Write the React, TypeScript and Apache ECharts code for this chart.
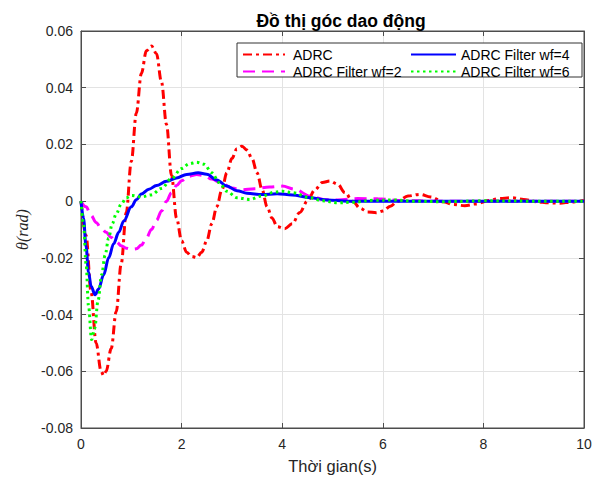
import React, { useEffect, useRef } from "react";
import * as echarts from "echarts";

// ---- Data ----
const xTicks = [0, 2, 4, 6, 8, 10];
const yTicks = [-0.08, -0.06, -0.04, -0.02, 0, 0.02, 0.04, 0.06];

const seriesNames = ["ADRC", "ADRC Filter wf=2", "ADRC Filter wf=4", "ADRC Filter wf=6"];

const tAdrc = [0, 0.1, 0.2, 0.3, 0.4, 0.45, 0.5, 0.6, 0.7, 0.8, 0.9, 1.0, 1.1, 1.2, 1.3, 1.4, 1.5, 1.6, 1.7, 1.8, 1.9, 2.0, 2.1, 2.2, 2.3, 2.4, 2.5, 2.6, 2.7, 2.8, 2.9, 3.0, 3.1, 3.2, 3.3, 3.4, 3.5, 3.6, 3.7, 3.8, 3.9, 4.05, 4.2, 4.35, 4.5, 4.65, 4.8, 4.95, 5.1, 5.25, 5.4, 5.55, 5.7, 5.87, 6.0, 6.15, 6.3, 6.5, 6.74, 6.95, 7.2, 7.4, 7.63, 7.85, 8.1, 8.3, 8.56, 8.8, 9.05, 9.3, 9.52, 9.75, 10];
const vAdrc = [0, -0.012, -0.032, -0.05, -0.06, -0.0615, -0.06, -0.052, -0.039, -0.022, -0.004, 0.014, 0.031, 0.045, 0.053, 0.0547, 0.052, 0.042, 0.027, 0.009, -0.006, -0.014, -0.018, -0.0195, -0.0199, -0.018, -0.014, -0.008, -0.002, 0.004, 0.01, 0.015, 0.0185, 0.0194, 0.018, 0.015, 0.01, 0.004, -0.002, -0.006, -0.009, -0.0097, -0.008, -0.004, 0.0, 0.004, 0.0066, 0.0071, 0.006, 0.003, 0.0, -0.0025, -0.0038, -0.0041, -0.0035, -0.0018, 0.0, 0.0018, 0.0024, 0.0015, -0.0002, -0.0012, -0.0016, -0.001, 0.0002, 0.0009, 0.0012, 0.0006, -0.0002, -0.0006, -0.0007, -0.0003, 0.0002];

const tWf2 = [0, 0.1, 0.2, 0.3, 0.4, 0.5, 0.6, 0.7, 0.8, 0.9, 1.0, 1.1, 1.2, 1.3, 1.4, 1.5, 1.6, 1.7, 1.8, 1.9, 2.0, 2.15, 2.3, 2.45, 2.6, 2.8, 3.0, 3.2, 3.45, 3.75, 4.0, 4.25, 4.55, 4.85, 5.1, 5.5, 5.9, 6.4, 7.0, 8.0, 9.0, 10];
const vWf2 = [0, -0.002, -0.005, -0.0075, -0.0095, -0.011, -0.0128, -0.0143, -0.0157, -0.0166, -0.017, -0.0168, -0.0155, -0.013, -0.01, -0.0068, -0.0035, 0.0, 0.003, 0.0055, 0.0072, 0.0088, 0.0094, 0.009, 0.0078, 0.0062, 0.0046, 0.004, 0.0044, 0.005, 0.0053, 0.0042, 0.0018, 0.0005, 0.0004, 0.0009, 0.0008, 0.0002, 0.0, 0.0, 0.0, 0.0];

const tWf4 = [0, 0.05, 0.1, 0.15, 0.2, 0.28, 0.35, 0.45, 0.55, 0.65, 0.75, 0.85, 1.0, 1.1, 1.2, 1.35, 1.5, 1.7, 1.9, 2.1, 2.33, 2.5, 2.7, 2.9, 3.1, 3.3, 3.6, 3.9, 4.2, 4.55, 4.9, 5.3, 6.0, 7.0, 8.0, 9.0, 10];
const vWf4 = [0, -0.006, -0.016, -0.025, -0.03, -0.033, -0.031, -0.026, -0.02, -0.015, -0.011, -0.007, -0.002, 0.0005, 0.0025, 0.0042, 0.0055, 0.007, 0.0082, 0.0094, 0.01, 0.0095, 0.0075, 0.0053, 0.0037, 0.0028, 0.0023, 0.0026, 0.0022, 0.0012, 0.0004, 0.0, 0.0, 0.0, 0.0, 0.0, 0.0];

const tWf6 = [0, 0.05, 0.1, 0.15, 0.21, 0.27, 0.34, 0.41, 0.48, 0.55, 0.62, 0.7, 0.8, 0.9, 1.0, 1.2, 1.4, 1.6, 1.8, 2.0, 2.15, 2.3, 2.45, 2.6, 2.75, 2.9, 3.1, 3.35, 3.6, 3.85, 4.0, 4.2, 4.55, 4.8, 5.1, 5.4, 5.8, 6.2, 6.6, 7.2, 8.0, 9.0, 10];
const vWf6 = [0, -0.008, -0.022, -0.037, -0.0488, -0.045, -0.035, -0.026, -0.019, -0.013, -0.008, -0.0045, -0.001, 0.0012, 0.002, 0.0015, 0.0022, 0.0045, 0.008, 0.0115, 0.0132, 0.0137, 0.013, 0.01, 0.0065, 0.0035, 0.0012, 0.0006, 0.0018, 0.0032, 0.0035, 0.003, 0.0012, 0.0001, -0.0006, -0.0004, 0.0003, 0.0004, 0.0, -0.0002, 0.0001, 0.0, 0.0];

const zip = (t: number[], v: number[]) => t.map((x, i) => [x, v[i]]);

const FONT = "Liberation Sans, Arial, sans-serif";
const AXIS_COLOR = "#4d4d4d";

export default function App() {
  const ref = useRef<HTMLDivElement>(null);
  useEffect(() => {
    if (!ref.current) return;
    const chart = echarts.init(ref.current, undefined, { renderer: "svg" });
    const grid = { left: 81, top: 31, width: 503, height: 398 };
    const xMin = xTicks[0], xMax = xTicks[xTicks.length - 1];
    const yMin = yTicks[0], yMax = yTicks[yTicks.length - 1];
    const tickStyle = { inside: true, length: 5, lineStyle: { color: AXIS_COLOR } };
    const commonSeries = { type: "line", symbol: "none", smooth: 0.35, smoothMonotone: "x" as const, z: 2 };
    const legendCommon = {
      orient: "vertical",
      top: 47,
      padding: 0,
      itemHeight: 14,
      itemGap: 2,
      z: 10,
      itemStyle: { color: "rgba(0,0,0,0)", borderWidth: 0, opacity: 0 },
    };
    chart.setOption({
      animation: false,
      backgroundColor: "#ffffff",
      title: {
        text: "Đồ thị góc dao động",
        left: 336,
        textAlign: "center",
        top: 7,
        textStyle: { fontFamily: FONT, fontSize: 17.5, fontWeight: "bold", color: "#000" },
      },
      grid: { ...grid, show: true, borderColor: AXIS_COLOR, borderWidth: 1, backgroundColor: "#fff" },
      legend: [
        {
          ...legendCommon,
          data: [seriesNames[0], seriesNames[1]],
          left: 242,
          itemWidth: 42,
          textStyle: { fontFamily: FONT, fontSize: 14, lineHeight: 15, color: "#000", padding: [0, 0, 0, 3] },
        },
        {
          ...legendCommon,
          data: [seriesNames[2], seriesNames[3]],
          left: 410,
          itemWidth: 45,
          textStyle: { fontFamily: FONT, fontSize: 14, lineHeight: 15, color: "#000" },
        },
      ],
      graphic: [
        {
          type: "rect",
          shape: { x: 237, y: 43, width: 345, height: 34 },
          style: { fill: "#fff", stroke: "#333", lineWidth: 1 },
          z: 5,
        },
      ],
      xAxis: [
        {
          type: "value",
          min: xMin,
          max: xMax,
          interval: 2,
          name: "Thời gian(s)",
          nameLocation: "middle",
          nameGap: 29,
          nameTextStyle: { fontFamily: FONT, fontSize: 16.5, color: "#262626" },
          axisLine: { show: true, onZero: false, lineStyle: { color: AXIS_COLOR } },
          axisTick: tickStyle,
          axisLabel: { fontFamily: FONT, fontSize: 14, color: "#262626", margin: 9 },
          splitLine: { show: true, lineStyle: { color: "#e3e3e3", width: 1 } },
        },
        {
          type: "value",
          position: "top",
          min: xMin,
          max: xMax,
          interval: 2,
          axisLine: { show: true, onZero: false, lineStyle: { color: AXIS_COLOR } },
          axisTick: tickStyle,
          axisLabel: { show: false },
          splitLine: { show: false },
        },
      ],
      yAxis: [
        {
          type: "value",
          min: yMin,
          max: yMax,
          interval: 0.02,
          name: "θ(rad)",
          nameLocation: "middle",
          nameGap: 47,
          nameRotate: 90,
          nameTextStyle: { fontFamily: "Liberation Serif, DejaVu Serif, serif", fontStyle: "italic", fontSize: 16, color: "#262626" },
          axisLine: { show: true, onZero: false, lineStyle: { color: AXIS_COLOR } },
          axisTick: tickStyle,
          axisLabel: {
            fontFamily: FONT,
            fontSize: 14,
            color: "#262626",
            margin: 8,
            formatter: (v: number) => (Math.abs(v) < 1e-9 ? "0" : String(+v.toFixed(2))),
          },
          splitLine: { show: true, lineStyle: { color: "#e3e3e3", width: 1 } },
        },
        {
          type: "value",
          position: "right",
          min: yMin,
          max: yMax,
          interval: 0.02,
          axisLine: { show: true, onZero: false, lineStyle: { color: AXIS_COLOR } },
          axisTick: tickStyle,
          axisLabel: { show: false },
          splitLine: { show: false },
        },
      ],
      series: [
        {
          ...commonSeries,
          name: seriesNames[0],
          data: zip(tAdrc, vAdrc),
          color: "#ff0000",
          lineStyle: { color: "#ff0000", width: 3, type: [9, 4, 3, 4] },
        },
        {
          ...commonSeries,
          name: seriesNames[1],
          data: zip(tWf2, vWf2),
          color: "#ff00ff",
          lineStyle: { color: "#ff00ff", width: 3, type: [12, 7] },
        },
        {
          ...commonSeries,
          name: seriesNames[2],
          data: zip(tWf4, vWf4),
          color: "#0000ff",
          lineStyle: { color: "#0000ff", width: 3, type: "solid" },
        },
        {
          ...commonSeries,
          name: seriesNames[3],
          data: zip(tWf6, vWf6),
          color: "#00ff00",
          lineStyle: { color: "#00ff00", width: 3, type: [2.5, 3.5] },
        },
      ],
    });
    return () => chart.dispose();
  }, []);
  return (
    <div
      ref={ref}
      style={{ position: "fixed", left: 0, top: 0, width: 602, height: 479, background: "#fff" }}
    />
  );
}
